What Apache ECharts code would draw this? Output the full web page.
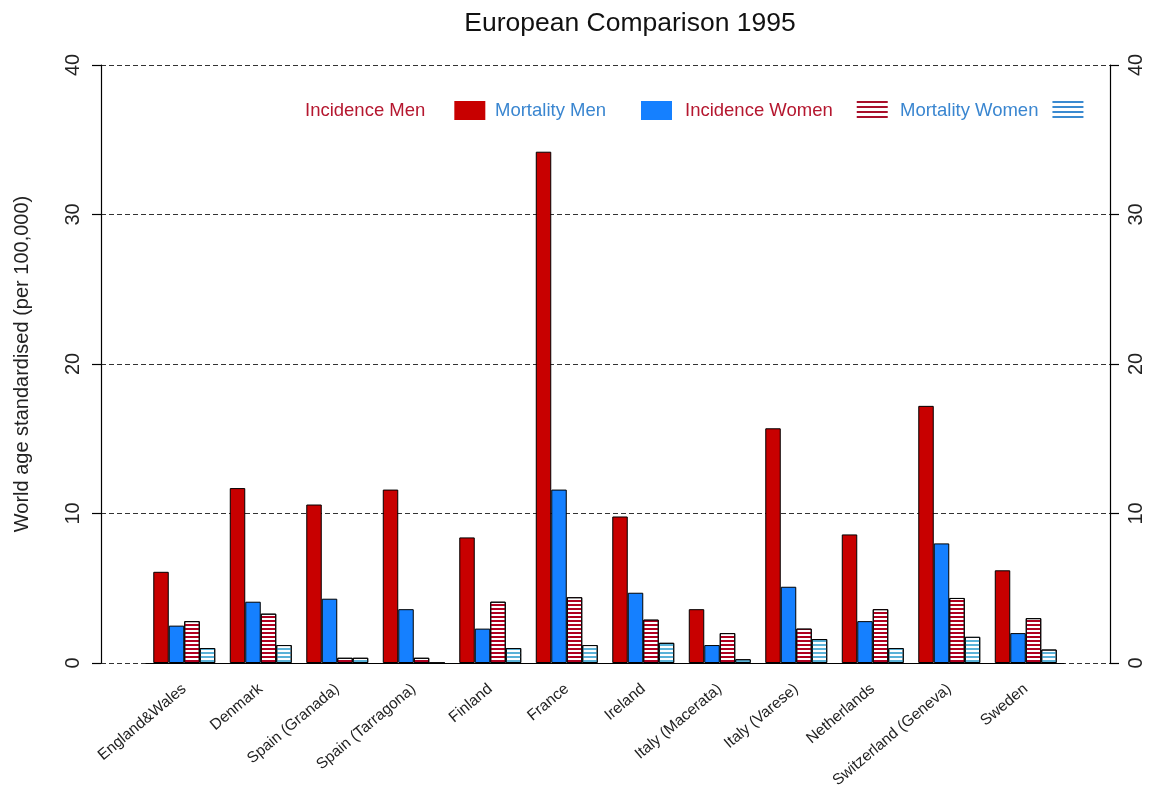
<!DOCTYPE html>
<html>
<head>
<meta charset="utf-8">
<title>European Comparison 1995</title>
<script src="https://cdn.jsdelivr.net/npm/echarts@6/dist/echarts.min.js"></script>
<style>
  html, body { margin: 0; padding: 0; background: #fff; }
  #chart { width: 1172px; height: 796px; }
</style>
</head>
<body>
<div id="chart"></div>
<script>
// Registries by country, world age standardised rates per 100,000
const categories = [
  'England&Wales', 'Denmark', 'Spain (Granada)', 'Spain (Tarragona)', 'Finland', 'France',
  'Ireland', 'Italy (Macerata)', 'Italy (Varese)', 'Netherlands', 'Switzerland (Geneva)', 'Sweden'
];
const incidenceMen   = [6.1, 11.7, 10.6, 11.6, 8.4, 34.2, 9.8, 3.6, 15.7, 8.6, 17.2, 6.2];
const mortalityMen   = [2.5, 4.1, 4.3, 3.6, 2.3, 11.6, 4.7, 1.2, 5.1, 2.8, 8.0, 2.0];
const incidenceWomen = [2.8, 3.3, 0.35, 0.35, 4.1, 4.4, 2.9, 2.0, 2.3, 3.6, 4.35, 3.0];
const mortalityWomen = [1.0, 1.2, 0.35, 0, 1.0, 1.2, 1.35, 0.25, 1.6, 1.0, 1.75, 0.9];
const yTicks = { min: 0, max: 40, interval: 10 };

const FONT = '"Liberation Sans", Arial, Helvetica, sans-serif';
const RED = '#c80000';
const BLUE = '#1580ff';
const RED_TEXT = '#b5172f';
const BLUE_TEXT = '#3a86d0';

// horizontal hatching for the mortality / women bars
function stripes(color, line, gap) {
  return {
    symbol: 'rect',
    symbolSize: 1,
    dashArrayX: [1, 0],
    dashArrayY: [line, gap],
    rotation: 0,
    color: color
  };
}

function barSeries(name, data, fill, decalColor) {
  const s = {
    name: name,
    type: 'bar',
    xAxisIndex: 0,
    yAxisIndex: 0,
    data: data,
    barGap: '0%',
    barCategoryGap: '19%',
    itemStyle: { color: fill, borderColor: '#000', borderWidth: 1 },
    emphasis: { disabled: true }
  };
  if (decalColor) s.itemStyle.decal = stripes(decalColor, 1.6, 1.8);
  return s;
}

function legendFor(name, left, textColor, gap, decalColor) {
  const itemStyle = { borderWidth: 0 };
  if (decalColor) {
    itemStyle.color = '#fff';
    itemStyle.decal = stripes(decalColor, 2, 3);
  }
  return {
    data: [name],
    left: left,
    top: 96,
    align: 'right',
    icon: 'rect',
    itemWidth: 31,
    itemHeight: 19,
    itemStyle: itemStyle,
    selectedMode: false,
    textStyle: { color: textColor, fontSize: 18.5, fontFamily: FONT, padding: [0, gap, 0, 0] }
  };
}

const chart = echarts.init(document.getElementById('chart'), null, { renderer: 'canvas' });

const valueAxisCommon = {
  type: 'value',
  gridIndex: 1,
  min: yTicks.min,
  max: yTicks.max,
  interval: yTicks.interval,
  axisLine: { show: true, lineStyle: { color: '#000', width: 1.2 } },
  axisTick: { show: true, inside: false, length: 9, lineStyle: { color: '#000', width: 1.2 } },
  axisLabel: { rotate: 90, fontSize: 20, color: '#222', fontFamily: FONT, margin: 18 }
};

chart.setOption({
  animation: false,
  backgroundColor: '#fff',
  title: {
    text: 'European Comparison 1995',
    left: 625,
    top: 5,
    textAlign: 'center',
    textStyle: { fontSize: 26.5, fontWeight: 'normal', color: '#111', fontFamily: FONT }
  },
  legend: [
    legendFor('Incidence Men', 300, RED_TEXT, 24),
    legendFor('Mortality Men', 490, BLUE_TEXT, 30),
    legendFor('Incidence Women', 680, RED_TEXT, 19, '#a8102a'),
    legendFor('Mortality Women', 895, BLUE_TEXT, 9, '#3a8ad0')
  ],
  grid: [
    // bars
    { left: 146, right: 108, top: 65, bottom: 133 },
    // framing axes and dashed reference lines
    { left: 101, right: 62, top: 65, bottom: 133 }
  ],
  xAxis: [
    {
      type: 'category',
      gridIndex: 0,
      data: categories,
      axisLine: { show: true, lineStyle: { color: '#000', width: 1.2 } },
      axisTick: { show: false },
      axisLabel: { rotate: 40, fontSize: 15.5, color: '#222', fontFamily: FONT, margin: 24, interval: 0 }
    },
    { type: 'value', gridIndex: 1, min: 0, max: 1, show: false }
  ],
  yAxis: [
    { type: 'value', gridIndex: 0, min: yTicks.min, max: yTicks.max, interval: yTicks.interval, show: false },
    Object.assign({}, valueAxisCommon, {
      position: 'left',
      name: 'World age standardised (per 100,000)',
      nameLocation: 'middle',
      nameGap: 69,
      nameRotate: 90,
      nameTextStyle: { fontSize: 20, color: '#222', fontFamily: FONT },
      splitLine: { show: true, lineStyle: { color: '#333', type: [5, 3], width: 1 } }
    }),
    Object.assign({}, valueAxisCommon, {
      position: 'right',
      axisLabel: Object.assign({}, valueAxisCommon.axisLabel, { margin: 16 }),
      splitLine: { show: false }
    })
  ],
  series: [
    barSeries('Incidence Men', incidenceMen, RED, null),
    barSeries('Mortality Men', mortalityMen, BLUE, null),
    barSeries('Incidence Women', incidenceWomen, '#fff', '#b00020'),
    barSeries('Mortality Women', mortalityWomen, '#fff', '#5ab2d8')
  ]
});
</script>
</body>
</html>
